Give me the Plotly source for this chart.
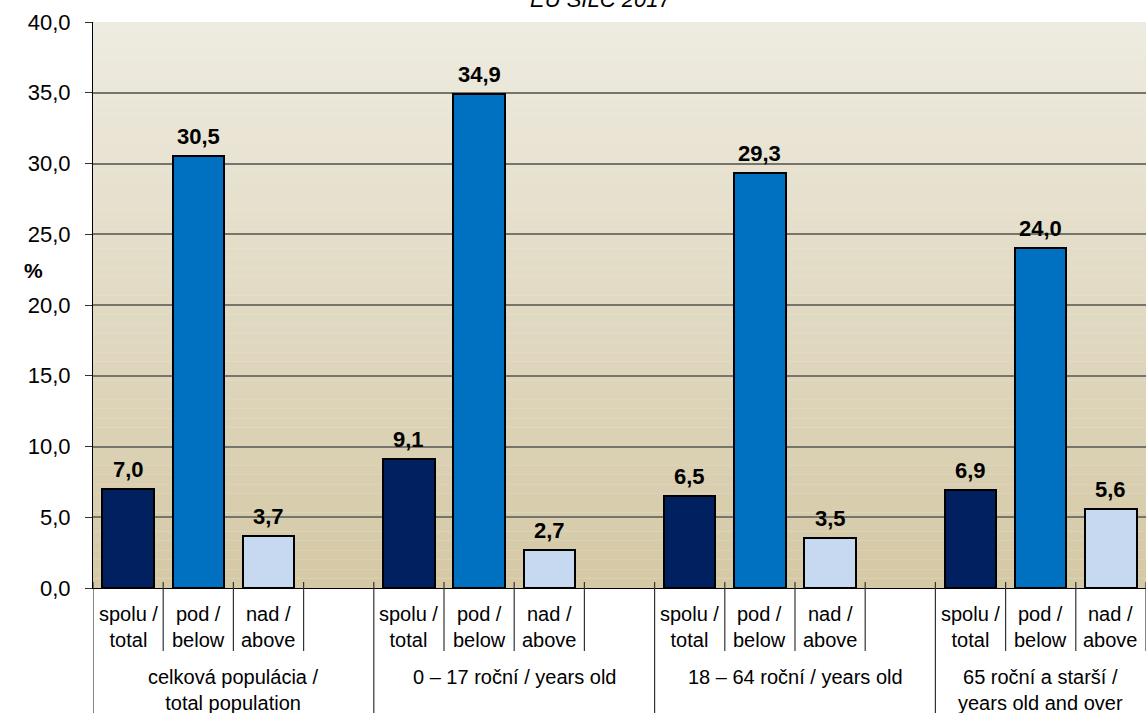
import plotly.graph_objects as go

# EU SILC 2017 - values in %
groups = ["celková populácia /<br>total population",
          "0 – 17 roční / years old",
          "18 – 64 roční / years old",
          "65 roční a starší /<br>years old and over"]
subcats = ["spolu /<br>total", "pod /<br>below", "nad /<br>above"]
spolu = [7.0, 9.1, 6.5, 6.9]
pod = [30.5, 34.9, 29.3, 24.0]
nad = [3.7, 2.7, 3.5, 5.6]

colors = ["#002060", "#0070C0", "#C6D9F1"]
series = [spolu, pod, nad]

H = 713
T, B = 22, 125
plot_h = H - T - B


def py(pix):
    # pixel row -> paper y
    return (H - B - pix) / plot_h


fig = go.Figure()

for s, vals in enumerate(series):
    xs = [4 * g + s for g in range(len(groups))]
    fig.add_trace(go.Bar(
        x=xs, y=vals, width=0.73,
        marker=dict(color=colors[s], line=dict(color="black", width=2)),
        showlegend=False, hoverinfo="y",
    ))
    for x, v in zip(xs, vals):
        fig.add_annotation(x=x, y=v, text="<b>" + f"{v:.1f}".replace(".", ",") + "</b>",
                           showarrow=False, yanchor="bottom", yshift=5,
                           font=dict(size=22, color="black"))

# background gradient
top = (238, 235, 224)
bot = (212, 200, 165)
n = 60
for i in range(n):
    t = (i + 0.5) / n
    c = tuple(round(bot[k] + (top[k] - bot[k]) * t) for k in range(3))
    fig.add_shape(type="rect", xref="paper", yref="y", x0=0, x1=1,
                  y0=40 * i / n, y1=40 * (i + 1) / n,
                  fillcolor="rgb(%d,%d,%d)" % c, line=dict(width=0), layer="below")

# category dividers and labels
last = 4 * (len(groups) - 1) + 2.5
for g, name in enumerate(groups):
    left = 4 * g - 0.5
    right = min(4 * g + 3.5, last)
    fig.add_shape(type="line", xref="x", yref="paper", x0=left, x1=left,
                  y0=py(582), y1=py(720), line=dict(color="#333333", width=1.2))
    for s, sub in enumerate(subcats):
        xd = 4 * g + s + 0.5
        fig.add_shape(type="line", xref="x", yref="paper", x0=xd, x1=xd,
                      y0=py(582), y1=py(651), line=dict(color="#333333", width=1.2))
        fig.add_annotation(x=4 * g + s, y=py(601), xref="x", yref="paper", text=sub,
                           showarrow=False, yanchor="top", font=dict(size=20, color="black"))
    fig.add_annotation(x=(left + right) / 2, y=py(664), xref="x", yref="paper", text=name,
                       showarrow=False, yanchor="top", font=dict(size=20, color="black"))

fig.add_annotation(x=(22 - 93) / 1053, y=py(270), xref="paper", yref="paper",
                   text="<b>%</b>", showarrow=False, font=dict(size=21, color="black"))
# title sits partly above the page edge, as in the source image
fig.add_annotation(x=(600 - 93) / 1053, y=py(14), xref="paper", yref="paper",
                   text="<i>EU SILC 2017</i>", showarrow=False, yanchor="bottom",
                   font=dict(size=22, color="black"))

fig.update_layout(
    width=1146, height=713,
    margin=dict(l=93, r=0, t=T, b=B),
    paper_bgcolor="white", plot_bgcolor="rgb(238,235,224)",
    separators=", ",
    font=dict(family="Arial, Liberation Sans, sans-serif", color="black"),
    bargap=0,
    xaxis=dict(range=[-0.5, 14.5], showticklabels=False, ticks="", showgrid=False,
               zeroline=False, showline=True, linecolor="black", linewidth=1.2),
    yaxis=dict(range=[0, 40], dtick=5, tickformat=".1f", ticks="outside", ticklen=7,
               tickcolor="#333333", tickfont=dict(size=22, color="black"),
               showgrid=True, gridcolor="#75756c", gridwidth=1.5, zeroline=False,
               showline=True, linecolor="black", linewidth=1.2, ticklabelstandoff=10),
)

fig.write_html("out.html", config={"displayModeBar": False},
               post_script="document.body.style.margin='0';")
